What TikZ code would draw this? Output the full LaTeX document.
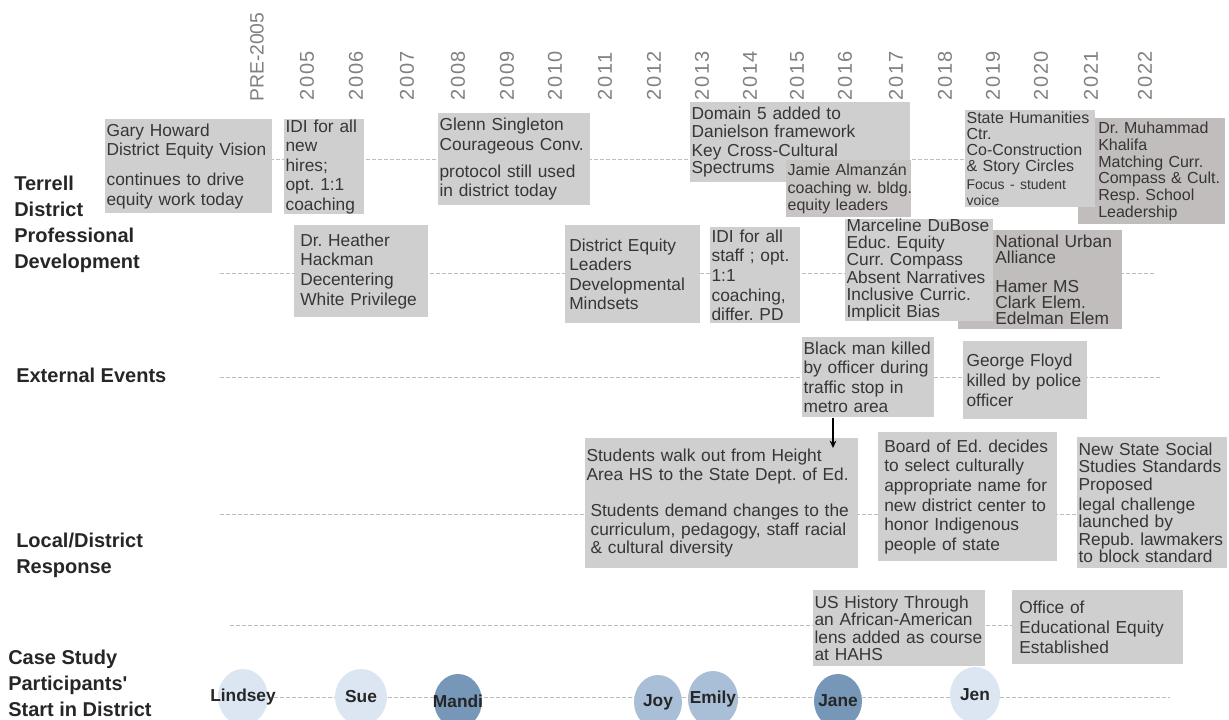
\documentclass[tikz,border=0pt]{standalone}
\usepackage{fontspec}
\setmainfont{Liberation Sans}
\newfontfamily\yearfont[LetterSpace=9]{Liberation Sans}
\newfontfamily\prefont{Liberation Sans}
\usetikzlibrary{positioning,arrows.meta,shapes.geometric,backgrounds}
\frenchspacing
\hyphenpenalty=10000
\exhyphenpenalty=10000
\definecolor{boxgray}{HTML}{CFCFCF}
\definecolor{boxdark}{HTML}{C0BDBC}
\definecolor{boxmid}{HTML}{C8C5C4}
\definecolor{ink}{HTML}{363636}
\definecolor{labink}{HTML}{262626}
\definecolor{yeargray}{HTML}{808080}
\definecolor{dashgray}{HTML}{BDBDBD}
\definecolor{startlight}{HTML}{DCE6F2}
\definecolor{startmid}{HTML}{A9BED7}
\definecolor{startdark}{HTML}{7697B7}
\tikzset{
  yr/.style={rotate=90, anchor=west, inner sep=0pt, text=yeargray, font=\yearfont\fontsize{15}{15}\selectfont},
  rowlab/.style={anchor=west, align=left, inner sep=0pt, text=labink, font=\bfseries\fontsize{15}{19.5}\selectfont},
  evbox/.code 2 args={%
    \pgfmathsetlengthmacro\evw{#1*0.75pt-2pt}%
    \pgfmathsetlengthmacro\evh{#2*0.75pt}%
    \edef\evset{\noexpand\tikzset{text width=\evw, minimum height=\evh}}\evset
    \tikzset{anchor=north west, fill=boxgray, inner xsep=1pt, inner ysep=0pt, align=left, text=ink, font=\fontsize{13}{14.7}\selectfont}},
  tight/.style={font=\fontsize{13}{13}\selectfont},
  rowline/.style={draw=dashgray, dash pattern=on 3pt off 1.5pt, line width=0.7pt},
  pstart/.style 2 args={ellipse, inner sep=0pt, minimum width=#1*0.75pt, minimum height=#2*0.75pt, text=labink, font=\bfseries\fontsize{13}{13}\selectfont},
  evarrow/.style={-{Stealth[length=5.5pt, width=5pt]}, line width=1.1pt, black},
}
\begin{document}
\begin{tikzpicture}[x=0.75pt, y=-0.75pt]
\useasboundingbox (0,0) rectangle (1229,719);
\node[yr, font=\prefont\fontsize{14.5}{14.5}\selectfont] (ypre) at (257,102) {PRE-2005};
\node[yr] (y05) at (307,101) {2005};
\node[yr] (y06) at (356,101) {2006};
\node[yr] (y07) at (407,101) {2007};
\node[yr] (y08) at (458,101) {2008};
\node[yr] (y09) at (507,101) {2009};
\node[yr] (y10) at (555,101) {2010};
\node[yr] (y11) at (605,101) {2011};
\node[yr] (y12) at (654,101) {2012};
\node[yr] (y13) at (702,101) {2013};
\node[yr] (y14) at (750,101) {2014};
\node[yr] (y15) at (797,101) {2015};
\node[yr] (y16) at (845,101) {2016};
\node[yr] (y17) at (896,101) {2017};
\node[yr] (y18) at (945,101) {2018};
\node[yr] (y19) at (993,101) {2019};
\node[yr] (y20) at (1041,101) {2020};
\node[yr] (y21) at (1091,101) {2021};
\node[yr] (y22) at (1145,101) {2022};

\node[rowlab] (pdlab) at (14,224) {Terrell\\District\\Professional\\Development};
\node[rowlab] (extlab) at (16,375) {External Events};
\node[rowlab] (loclab) at (16,555) {Local/District\\Response};
\node[rowlab] (caselab) at (8,683) {Case Study\\Participants\textquotesingle\\Start in District};

\node[evbox={167}{94}] (howard) at (105,119) {Gary Howard\\District Equity Vision\\[7.8pt]continues to drive\\equity work today};
\node[evbox={80}{95}] (idinew) at (284,119) {IDI for all\\new\\hires;\\opt. 1:1\\coaching};
\node[evbox={152}{92}] (singleton) at (438,113) {Glenn Singleton\\Courageous Conv.\\[5.5pt]protocol still used\\in district today};
\node[evbox={220}{80}, tight] (domain) at (690,102) {Domain 5 added to\\Danielson framework\\[1.5pt]Key Cross-Cultural\\Spectrums};
\node[evbox={125}{57}, fill=boxmid, font=\fontsize{12}{12.8}\selectfont] (almanzan) at (786,160) {\mbox{Jamie Almanzán}\\\mbox{coaching w. bldg.}\\\mbox{equity leaders}};
\node[evbox={147}{106}, fill=boxdark, font=\fontsize{12}{12.6}\selectfont] (khalifa) at (1078,118) {\leftskip=14pt\relax Dr. Muhammad\\Khalifa\\Matching Curr.\\Compass \& Cult.\\Resp. School\\Leadership\par};
\node[evbox={130}{97}, font=\fontsize{12}{12}\selectfont] (humanities) at (965,110) {State Humanities\\Ctr.\\Co-Construction\\\& Story Circles\\[2pt]\fontsize{10.5}{12}\selectfont Focus - student\\voice};

\node[evbox={134}{92}] (hackman) at (294,225) {\leftskip=3.5pt\relax Dr. Heather\\Hackman\\Decentering\\White Privilege\par};
\node[evbox={135}{98}] (leaders) at (565,225) {\leftskip=2pt\relax District Equity\\Leaders\\Developmental\\Mindsets\par};
\node[evbox={90}{96}] (idistaff) at (710,227) {IDI for all\\staff ; opt.\\1:1\\coaching,\\differ. PD};
\node[evbox={164}{99}, fill=boxdark, font=\fontsize{13}{12}\selectfont] (nua) at (958,230) {\leftskip=26.8pt\relax National Urban\\Alliance\\[9.5pt]Hamer MS\\Clark Elem.\\Edelman Elem\par};
\node[evbox={148}{100}, font=\fontsize{13}{12.8}\selectfont] (dubose) at (845,219) {Marceline DuBose\\Educ. Equity\\Curr. Compass\\Absent Narratives\\Inclusive Curric.\\Implicit Bias};

\node[evbox={132}{80}] (blackman) at (802,337) {Black man killed\\by officer during\\traffic stop in\\metro area};
\node[evbox={124}{78}] (floyd) at (963,341) {\leftskip=1.5pt\relax George Floyd\\killed by police\\officer\par};

\node[evbox={273}{130}, font=\fontsize{13}{14.2}\selectfont] (walkout) at (585,438) {Students walk out from Height\\Area HS to the State Dept. of Ed.\\[12.5pt]\leftskip=3pt\relax Students demand changes to the\\curriculum, pedagogy, staff racial\\\& cultural diversity\par};
\node[evbox={179}{129}] (namecenter) at (878,432) {\leftskip=3.5pt\relax Board of Ed. decides\\to select culturally\\appropriate name for\\new district center to\\honor Indigenous\\people of state\par};
\node[evbox={150}{131}, font=\fontsize{13}{13.1}\selectfont] (standards) at (1077,437) {New State Social\\Studies Standards\\Proposed\\[2pt]legal challenge\\launched by\\Repub. lawmakers\\to block standard};

\node[evbox={172}{76}, tight] (ushistory) at (813,590) {US History Through\\an African-American\\lens added as course\\at HAHS};
\node[evbox={171}{74}] (equityoffice) at (1012,590) {\leftskip=4.3pt\relax Office of\\Educational Equity\\Established\par};

\node[pstart={50}{56}, fill=startlight] (lindsey) at (243,697) {\makebox[0pt]{Lindsey}};
\node[pstart={52}{56}, fill=startlight] (sue) at (361,697) {\makebox[0pt]{Sue}};
\node[pstart={48}{54}, fill=startdark] (mandi) at (458,701) {\makebox[0pt]{Mandi}};
\node[pstart={48}{54}, fill=startmid] (joy) at (658,702) {\makebox[0pt]{Joy}};
\node[pstart={50}{56}, fill=startmid] (emily) at (713,699) {\makebox[0pt]{Emily}};
\node[pstart={48}{54}, fill=startdark] (jane) at (838,701) {\makebox[0pt]{Jane}};
\node[pstart={50}{56}, fill=startlight] (jen) at (975,695) {\makebox[0pt]{Jen}};

\begin{scope}[on background layer]
  \coordinate (tdbeg) at (270,159);
  \coordinate (tdend) at (1078,159);
  \coordinate (pdbeg) at (220,273);
  \coordinate (pdend) at (1155,273);
  \coordinate (exbeg) at (220,377);
  \coordinate (exend) at (1160,377);
  \coordinate (lcbeg) at (220,514);
  \coordinate (csbeg) at (230,625);
  \coordinate (ptend) at (1170,697);
  \draw[rowline] (tdbeg) -- (tdend);
  \draw[rowline] (pdbeg) -- (pdend);
  \draw[rowline] (exbeg) -- (exend);
  \draw[rowline] (lcbeg) -- (standards.west |- lcbeg);
  \draw[rowline] (csbeg) -- (equityoffice.west |- csbeg);
  \draw[rowline] (lindsey) -- (ptend);
\end{scope}

\coordinate (hitpt) at (833,448);
\draw[evarrow] (blackman.south -| hitpt) -- (hitpt);
\end{tikzpicture}
\end{document}
